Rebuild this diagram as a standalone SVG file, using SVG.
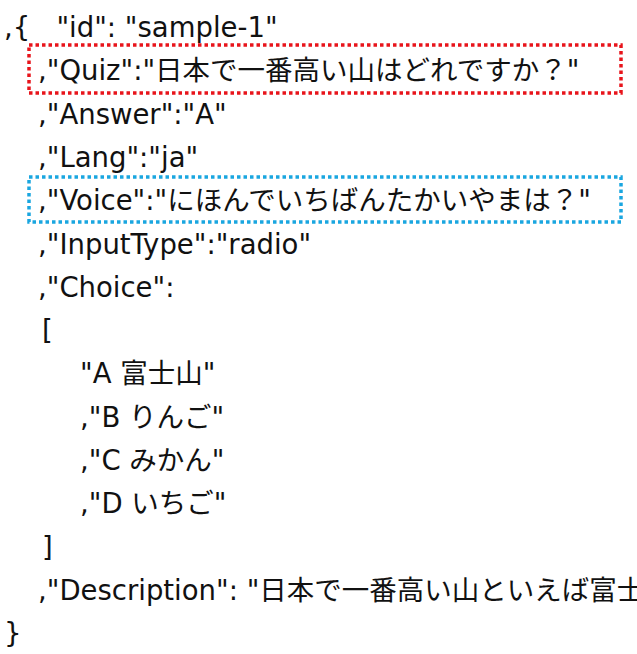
<svg xmlns="http://www.w3.org/2000/svg" width="637" height="654" viewBox="0 0 637 654">
<style>
text{font-family:"DejaVu Sans","Noto Sans CJK JP",sans-serif;font-size:27.5px;fill:#111;white-space:pre}
.box{fill:none;stroke-width:3.5;stroke-dasharray:3.5 3}
</style>
<rect width="637" height="654" fill="#fff"/>
<rect class="box" x="29" y="45" width="592" height="48" stroke="#e8141b"/>
<rect class="box" x="29" y="177" width="592" height="45" stroke="#1aa6e0"/>
<text x="4" y="37">,{   "id": "sample-1"</text>
<text x="38" y="80">,"Quiz":"日本で一番高い山はどれですか？"</text>
<text x="38" y="124">,"Answer":"A"</text>
<text x="38" y="167">,"Lang":"ja"</text>
<text x="38" y="210">,"Voice":"にほんでいちばんたかいやまは？"</text>
<text x="38" y="254">,"InputType":"radio"</text>
<text x="38" y="297">,"Choice":</text>
<text x="42" y="340">[</text>
<text x="80" y="383">"A 富士山"</text>
<text x="80" y="427">,"B りんご"</text>
<text x="80" y="470">,"C みかん"</text>
<text x="80" y="513">,"D いちご"</text>
<text x="42" y="557">]</text>
<text x="38" y="600">,"Description": "日本で一番高い山といえば富士山です"</text>
<text x="4" y="643">}</text>
</svg>
